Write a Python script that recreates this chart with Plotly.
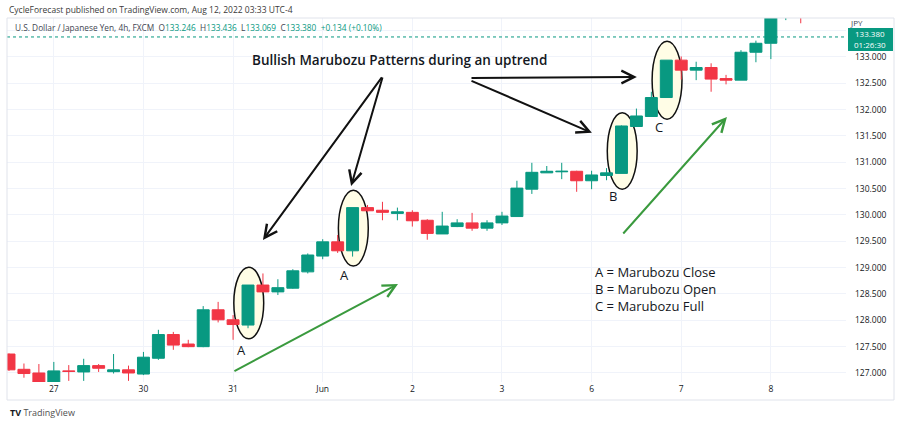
import plotly.graph_objects as go

# ---------------- data ----------------
tick_labels = ['27', '30', '31', 'Jun', '2', '3', '6', '7', '8']
tick_index = [3, 9, 15, 21, 27, 33, 39, 45, 51]

opens = [127.36, 127.07, 127.00, 126.81, 127.04, 127.02, 127.14, 127.025, 127.06, 126.98,
         127.28, 127.73, 127.55, 127.50, 128.20, 128.01, 127.91, 128.67, 128.54, 128.61,
         128.92, 129.22, 129.49, 129.32, 130.14, 130.09, 130.03, 130.05, 129.90, 129.64,
         129.78, 129.85, 129.75, 129.85, 129.97, 130.49, 130.80, 130.82, 130.83, 130.65,
         130.75, 130.79, 131.68, 131.87, 132.23, 132.94, 132.75, 132.80, 132.59, 132.56,
         133.09, 133.26, 133.80, 134.00]
highs = [127.37, 127.18, 127.17, 127.21, 127.15, 127.27, 127.17, 127.36, 127.14, 127.40,
         127.82, 127.78, 127.63, 128.27, 128.35, 128.10, 128.67, 128.89, 128.78, 128.97,
         129.27, 129.54, 129.62, 130.14, 130.19, 130.25, 130.14, 130.09, 129.92, 130.06,
         129.92, 130.04, 129.90, 130.06, 130.65, 130.99, 130.93, 130.99, 130.84, 130.84,
         130.89, 131.70, 132.02, 132.34, 132.94, 133.01, 132.91, 132.88, 132.66, 133.13,
         133.31, 133.85, 134.05, 134.10]
lows = [127.04, 126.91, 126.78, 126.78, 126.85, 126.85, 127.02, 126.99, 126.85, 126.96,
        127.25, 127.44, 127.49, 127.49, 127.96, 127.63, 127.85, 128.54, 128.48, 128.60,
        128.89, 129.16, 129.28, 129.21, 130.06, 129.90, 129.90, 129.78, 129.53, 129.64,
        129.77, 129.70, 129.70, 129.81, 129.97, 130.40, 130.80, 130.68, 130.44, 130.49,
        130.66, 130.79, 131.68, 131.87, 132.23, 132.57, 132.56, 132.34, 132.48, 132.56,
        132.90, 132.96, 133.70, 133.64]
closes = [127.06, 126.99, 126.82, 127.04, 127.03, 127.14, 127.09, 127.06, 127.00, 127.30,
          127.73, 127.53, 127.50, 128.20, 128.01, 127.92, 128.67, 128.54, 128.62, 128.94,
          129.24, 129.49, 129.32, 130.14, 130.08, 130.05, 130.06, 129.89, 129.65, 129.79,
          129.85, 129.75, 129.85, 129.98, 130.51, 130.81, 130.83, 130.83, 130.65, 130.76,
          130.80, 131.69, 131.88, 132.23, 132.94, 132.75, 132.80, 132.58, 132.56, 133.09,
          133.26, 133.80, 133.95, 133.85]

price_ticks = [127.0, 127.5, 128.0, 128.5, 129.0, 129.5, 130.0, 130.5, 131.0, 131.5,
               132.0, 132.5, 133.0]
last_price = 133.380
ohlc_labels = ['O', 'H', 'L', 'C']
ohlc_values = ['133.246', '133.436', '133.069', '133.380']
change_text = '+0.134 (+0.10%)'

# pattern annotations: candle index, label
patterns = [(16, 'A'), (23, 'A'), (41, 'B'), (44, 'C')]
legend_lines = ['A = Marubozu Close', 'B = Marubozu Open', 'C = Marubozu Full']

# ---------------- style ----------------
GREEN = '#089981'
RED = '#F23645'
GRID = '#f0f3fa'
TXT = '#131722'
FONT = 'Open Sans'

W, H = 904, 426
ML, MR, MT, MB = 7, 58, 18, 44
PW, PH = W - ML - MR, H - MT - MB


def pxx(px):
    return (px - ML) / PW


def pxy(py):
    return (H - MB - py) / PH


fig = go.Figure(go.Candlestick(
    x=list(range(len(opens))), open=opens, high=highs, low=lows, close=closes,
    increasing=dict(line=dict(color=GREEN, width=1), fillcolor=GREEN),
    decreasing=dict(line=dict(color=RED, width=1), fillcolor=RED),
    whiskerwidth=0, hoverinfo='skip', showlegend=False))

shapes = []
annotations = []


def text(px, py, s, size=8.5, color=TXT, xanchor='center', weight=None, **kw):
    f = dict(family=FONT, size=size, color=color)
    if weight:
        f['weight'] = weight
    d = dict(x=pxx(px), y=pxy(py), xref='paper', yref='paper', text=s, showarrow=False,
             xanchor=xanchor, yanchor='middle', font=f)
    d.update(kw)
    annotations.append(d)


# ellipses around marubozu candles
ell_pad = {16: (0.20, 0.34), 23: (0.18, 0.33), 41: (0.30, 0.24), 44: (0.41, 0.36)}
for idx, lab in patterns:
    lo_pad, hi_pad = ell_pad[idx]
    shapes.append(dict(type='circle', xref='x', yref='y',
                       x0=idx - 0.95, x1=idx + 1.05,
                       y0=lows[idx] - lo_pad, y1=highs[idx] + hi_pad,
                       fillcolor='#fffde6', line=dict(color='#111111', width=1.5),
                       layer='between'))

label_pos = {16: (15.53, 127.44), 23: (22.49, 128.86), 41: (40.43, 130.36), 44: (43.51, 131.67)}
for idx, lab in patterns:
    lx, ly = label_pos[idx]
    annotations.append(dict(x=lx, y=ly, xref='x', yref='y', text=lab, showarrow=False,
                            xanchor='center', yanchor='middle',
                            font=dict(family=FONT, size=13, color=TXT)))

# last price dotted line
shapes.append(dict(type='line', xref='paper', yref='y', x0=0, x1=1, y0=last_price, y1=last_price,
                   line=dict(color=GREEN, width=1, dash='dot')))
# price label box on the axis
shapes.append(dict(type='rect', xref='paper', yref='paper', x0=pxx(848), x1=pxx(893),
                   y0=pxy(51), y1=pxy(28), fillcolor=GREEN, line=dict(width=0)))
# outer frame
shapes.append(dict(type='rect', xref='paper', yref='paper', x0=pxx(7), x1=pxx(894),
                   y0=pxy(400), y1=pxy(18), line=dict(color='#e0e3eb', width=1),
                   fillcolor='rgba(0,0,0,0)'))

text(870, 33.5, f'{last_price:.3f}', color='white', size=8, borderpad=0)
text(870, 44.5, '01:26:30', color='white', size=8, borderpad=0)
text(849, 22.5, 'JPY', color='#434651', xanchor='left', size=8, borderpad=0)

# header texts
text(7, 9.5, 'CycleForecast published on TradingView.com, Aug 12, 2022 03:33 UTC-4',
     color='#3a3a3a', xanchor='left')
vals = '  '.join(f'{k}<span style="color:{GREEN}">{v}</span>' for k, v in zip(ohlc_labels, ohlc_values))
text(13, 27.5, f'U.S. Dollar / Japanese Yen, 4h, FXCM  {vals}  '
               f'<span style="color:{GREEN}">{change_text}</span>',
     color='#434651', xanchor='left', size=8.3)

# title
text(399.5, 60, 'Bullish Marubozu Patterns during an uptrend', size=13.5, weight=600)

# legend block
text(593, 289, '<br>'.join(legend_lines), size=13, xanchor='left', align='left')

# arrows (tip, tail) in candle-index / price coordinates
black_arrows = [((17.0, 129.525), (25.03, 132.64)),
                ((22.9, 130.55), (25.03, 132.64)),
                ((42.03, 132.62), (30.86, 132.60)),
                ((39.02, 131.56), (30.86, 132.56))]
green_arrows = [((26.04, 128.69), (14.99, 127.02)),
                ((48.06, 131.86), (41.03, 129.62))]
for arrows, col in ((black_arrows, '#111111'), (green_arrows, '#3a9a3e')):
    for (tx, ty), (sx, sy) in arrows:
        annotations.append(dict(x=tx, y=ty, ax=sx, ay=sy, xref='x', yref='y', axref='x', ayref='y',
                                text='', showarrow=True, arrowhead=5, arrowsize=1.25,
                                arrowwidth=2, arrowcolor=col, standoff=0, startstandoff=0))

# TradingView logo text
text(8, 413, f'<b style="color:{TXT}">TV</b> TradingView', size=9, color='#505050', xanchor='left')

fig.update_layout(
    width=W, height=H,
    margin=dict(l=ML, r=MR, t=MT, b=MB, pad=0),
    paper_bgcolor='white', plot_bgcolor='white',
    boxgap=0.2, boxgroupgap=0,
    shapes=shapes, annotations=annotations,
    showlegend=False,
    xaxis=dict(range=[-0.134, 56.03], tickvals=tick_index, ticktext=tick_labels,
               showgrid=True, gridcolor=GRID, gridwidth=1, zeroline=False, showline=False,
               ticks='', tickfont=dict(family=FONT, size=8.5, color=TXT),
               rangeslider=dict(visible=False), fixedrange=True),
    yaxis=dict(range=[126.829, 133.740], side='right',
               tickvals=price_ticks + [133.5],
               ticktext=[f'{v:.3f}' for v in price_ticks] + [''],
               showgrid=True, gridcolor=GRID, gridwidth=1, zeroline=False, showline=False,
               ticks='', ticklabelstandoff=8,
               tickfont=dict(family=FONT, size=8.5, color=TXT), fixedrange=True),
)

fig.write_html('out.html', config={'displayModeBar': False},
               post_script="document.body.style.margin='0px';")
